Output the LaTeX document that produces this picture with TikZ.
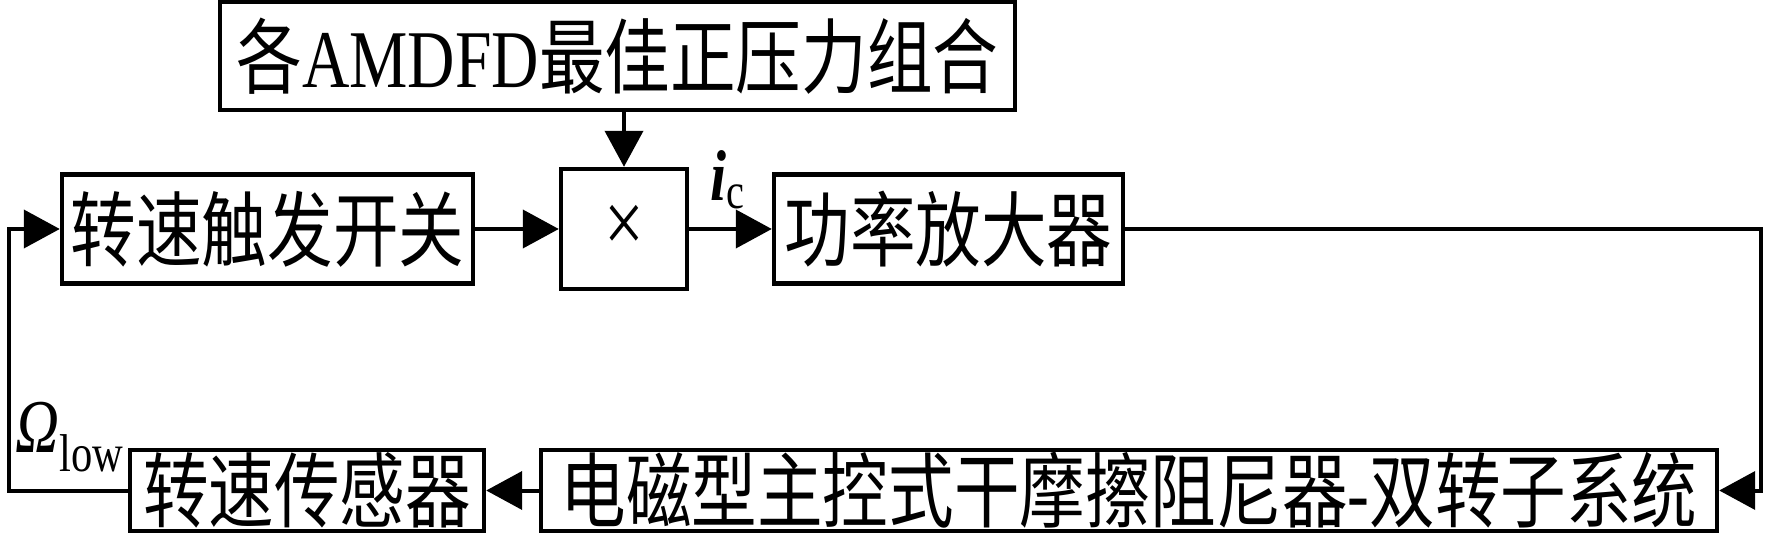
\documentclass[tikz,border=0pt]{standalone}
\usepackage{fontspec}
\setmainfont{Liberation Serif}[FakeStretch=0.8]
\newfontfamily\cjk{Noto Sans CJK SC}[FakeStretch=0.8]
\newcommand\zh[1]{{\cjk #1}}
\usetikzlibrary{arrows.meta}
\begin{document}
\begin{tikzpicture}[x=0.5pt,y=-0.5pt,
  box/.style={draw, line width=2.2pt, inner sep=0pt, align=center, font=\fontsize{41}{41}\selectfont},
  conn/.style={line width=2pt},
  arr/.style={conn, -{Triangle[length=18pt,width=19pt]}}]
\useasboundingbox (0,0) rectangle (1772,539);
\node[box, minimum width=397.5pt, minimum height=54pt] (top) at (617.5,56) {\zh{各}AMDFD\zh{最佳正压力组合}};
\node[box, minimum width=63pt, minimum height=60pt, font=\fontsize{44}{44}\selectfont] (times) at (624,229) {×};
\node[box, minimum width=205.5pt, minimum height=54.5pt] (sw) at (267.5,229) {\zh{转速触发开关}};
\node[box, minimum width=174.5pt, minimum height=54.5pt] (amp) at (948.5,229) {\zh{功率放大器}};
\node[box, minimum width=588pt, minimum height=40.5pt] (big) at (1129,490.5) {\zh{电磁型主控式干摩擦阻尼器}-\zh{双转子系统}};
\node[box, minimum width=177pt, minimum height=40.5pt] (sensor) at (307,490.5) {\zh{转速传感器}};
\node[font=\fontsize{36}{36}\selectfont, inner sep=0pt] (ic) at (728,180) {\textbf{\textit{i}}\textsubscript{c}};
\node[font=\fontsize{38}{38}\selectfont, inner sep=0pt] (om) at (70,437) {\textit{Ω}\textsubscript{low}};
\coordinate (rx) at (1761,0);
\coordinate (lx) at (9,0);
\draw[arr] (top.south -| times.north) -- (times.north);
\draw[arr] (sw.east) -- (times.west);
\draw[arr] (times.east) -- (amp.west);
\draw[arr] (amp.east) -- (amp.east -| rx) |- (big.east);
\draw[arr] (big.west) -- (sensor.east);
\draw[arr] (sensor.west) -- (sensor.west -| lx) |- (sw.west);
\end{tikzpicture}
\end{document}
